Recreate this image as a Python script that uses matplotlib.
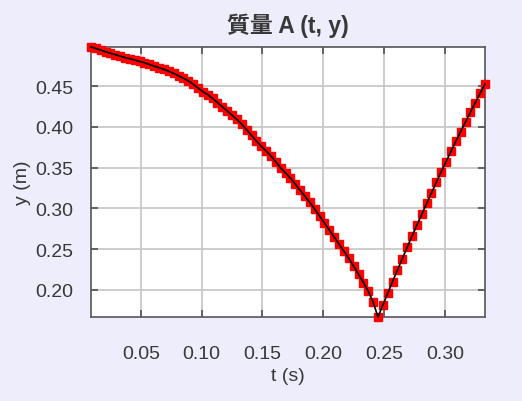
import numpy as np
import matplotlib
matplotlib.use('Agg')
import matplotlib.pyplot as plt

plt.rcParams['font.family'] = ['Liberation Sans', 'Noto Sans CJK TC', 'DejaVu Sans']

# time (s) and height (m) of mass A
t = [0.009, 0.013, 0.017, 0.021, 0.025, 0.029, 0.033, 0.037, 0.041, 0.045,
     0.049, 0.053, 0.057, 0.061, 0.065, 0.069, 0.073, 0.077, 0.081, 0.085,
     0.089, 0.093, 0.097, 0.101, 0.105, 0.109, 0.113, 0.117, 0.121, 0.125,
     0.129, 0.133, 0.137, 0.141, 0.145, 0.149, 0.153, 0.157, 0.161, 0.165,
     0.169, 0.173, 0.177, 0.181, 0.185, 0.189, 0.193, 0.197, 0.201, 0.205,
     0.209, 0.213, 0.217, 0.221, 0.225, 0.229, 0.233, 0.237, 0.241, 0.245,
     0.249, 0.253, 0.257, 0.261, 0.265, 0.269, 0.273, 0.277, 0.281, 0.285,
     0.289, 0.293, 0.297, 0.301, 0.305, 0.309, 0.313, 0.317, 0.321, 0.325,
     0.329, 0.333]
y = [0.4980, 0.4962, 0.4943, 0.4922, 0.4903, 0.4886, 0.4868, 0.4851, 0.4836, 0.4820,
     0.4803, 0.4786, 0.4766, 0.4745, 0.4726, 0.4705, 0.4682, 0.4655, 0.4626, 0.4597,
     0.4565, 0.4523, 0.4478, 0.4432, 0.4395, 0.4349, 0.4298, 0.4247, 0.4196, 0.4143,
     0.4091, 0.4032, 0.3964, 0.3895, 0.3826, 0.3762, 0.3705, 0.3643, 0.3570, 0.3497,
     0.3434, 0.3372, 0.3297, 0.3222, 0.3147, 0.3072, 0.2990, 0.2906, 0.2820, 0.2734,
     0.2648, 0.2561, 0.2474, 0.2386, 0.2290, 0.2190, 0.2090, 0.1985, 0.1850, 0.1667,
     0.1813, 0.1958, 0.2102, 0.2243, 0.2383, 0.2522, 0.2659, 0.2794, 0.2928, 0.3061,
     0.3191, 0.3320, 0.3448, 0.3574, 0.3699, 0.3822, 0.3943, 0.4062, 0.4181, 0.4297,
     0.4412, 0.4526]

xticks = [0.05, 0.10, 0.15, 0.20, 0.25, 0.30]
yticks = [0.20, 0.25, 0.30, 0.35, 0.40, 0.45]

txt = '#383838'
bg = '#ededfb'

fig = plt.figure(figsize=(5.22, 4.02), dpi=100, facecolor=bg)
ax = fig.add_axes([0.1743, 0.2090, 0.7548, 0.6716])
ax.set_facecolor('white')

ax.plot(t, y, 's', color='red', markersize=6, markeredgecolor='red', zorder=3, clip_on=False)
ax.plot(t, y, '-', color='black', linewidth=1.2, zorder=4, clip_on=False)

ax.set_xlim(min(t), max(t))
ax.set_ylim(min(y), max(y))
ax.set_xticks(xticks)
ax.set_xticklabels(['%.2f' % v for v in xticks])
ax.set_yticks(yticks)
ax.set_yticklabels(['%.2f' % v for v in yticks])

ax.grid(True, color='#c8c8c8', linewidth=1.3)
ax.set_axisbelow(True)
ax.tick_params(direction='in', length=5, width=1.1, color='#444444',
               top=True, right=True, labelsize=14, labelcolor=txt)
ax.tick_params(axis='x', pad=20)
ax.tick_params(axis='y', pad=13)
for s in ax.spines.values():
    s.set_color('#555555')
    s.set_linewidth(1.2)

ax.set_xlabel('t (s)', fontsize=14, color=txt)
ax.set_ylabel('y (m)', fontsize=14, color=txt)
ax.xaxis.set_label_coords(0.5, -0.185)
ax.yaxis.set_label_coords(-0.152, 0.5)
ax.set_title('質量 A (t, y)', fontsize=16.5, fontweight='bold', color=txt, pad=11)

fig.savefig('out.png', dpi=100, facecolor=bg)
